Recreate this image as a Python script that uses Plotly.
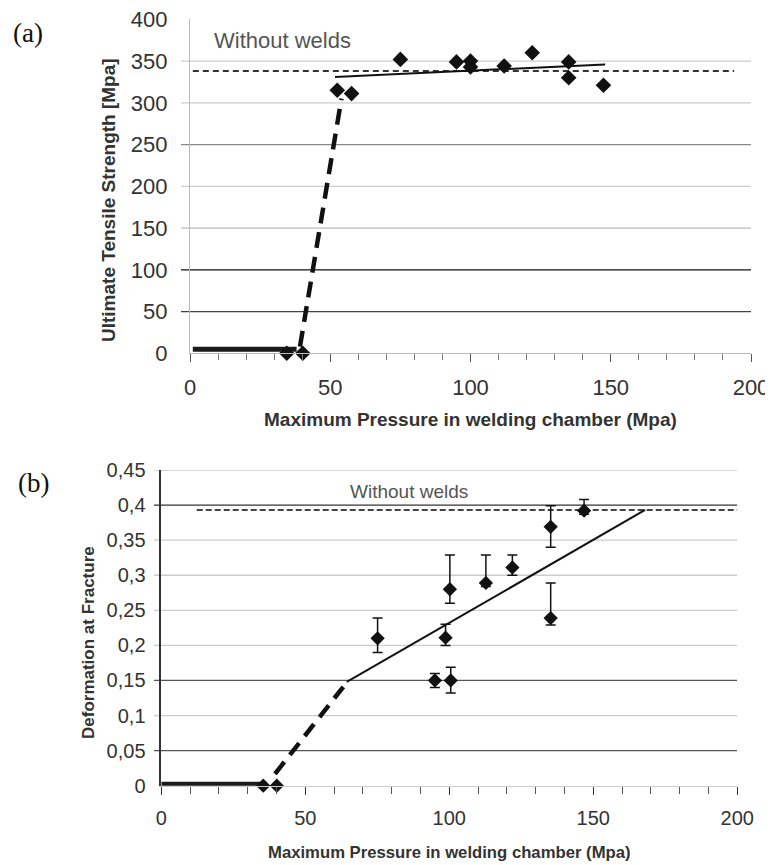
import plotly.graph_objects as go

# The page body adds an 8px margin, so the figure is laid out in
# reference pixel coordinates shifted by that margin.
OFF = 8
W, H = 773 - OFF, 865 - OFF


def px(x):
    return (x - OFF) / W


def py(y):
    return 1 - (y - OFF) / H


# ---------------- Panel (a) data ----------------
a_zero_p = [34.5, 40.2]
a_zero_uts = [0, 0]
a_p = [52.5, 57.6, 75, 95, 100, 100, 112, 122, 135, 135, 147.4]
a_uts = [315, 311, 352, 349, 350, 343, 344, 360, 349, 330, 321]
a_low_line_p = [1, 38]
a_low_line_uts = [5, 5]
a_jump_p = [39.2, 54]
a_jump_uts = [8, 305]
a_fit_p = [51.7, 148]
a_fit_uts = [331, 346]
a_ref_p = [1, 194]
a_ref_uts = [338, 338]
a_grid_vals = [50, 100, 150, 200, 250, 300, 350]
a_grid_cols = ["#444", "#111", "#bbb", "#ccc", "#888", "#ccc", "#ccc"]
a_xticks = [0, 50, 100, 150, 200]
a_yticks = [0, 50, 100, 150, 200, 250, 300, 350, 400]

# ---------------- Panel (b) data ----------------
b_zero_p = [35.4, 40.1]
b_zero_d = [0, 0]
b_p = [75.1, 95.0, 98.7, 100.5, 100.2, 112.7, 121.9, 135.2, 135.2, 146.8]
b_d = [0.21, 0.15, 0.211, 0.15, 0.28, 0.289, 0.311, 0.369, 0.239, 0.392]
b_err_plus = [0.029, 0.01, 0.019, 0.019, 0.049, 0.04, 0.018, 0.03, 0.05, 0.016]
b_err_minus = [0.02, 0.01, 0.011, 0.018, 0.02, 0.005, 0.011, 0.029, 0.01, 0.005]
b_low_line_p = [0, 36.7]
b_low_line_d = [0.002, 0.002]
b_jump_p = [39.5, 63.2]
b_jump_d = [0.017, 0.141]
b_fit_p = [64.4, 168]
b_fit_d = [0.148, 0.393]
b_ref_p = [12.3, 200]
b_ref_d = [0.393, 0.393]
b_grid_vals = [0.05, 0.1, 0.15, 0.2, 0.25, 0.3, 0.35, 0.4, 0.45]
b_grid_cols = ["#555", "#ccc", "#555", "#ccc", "#ccc", "#ccc", "#ccc", "#333", "#ccc"]
b_xticks = [0, 50, 100, 150, 200]

FONT = "Liberation Sans, Arial, sans-serif"
SERIF = "Liberation Serif, Times New Roman, serif"

fig = go.Figure()

# ---- (a) traces ----
fig.add_trace(go.Scatter(x=a_ref_p, y=a_ref_uts, mode="lines", xaxis="x", yaxis="y",
                         line=dict(color="#333", width=2, dash="6px,4px"), showlegend=False))
fig.add_trace(go.Scatter(x=a_low_line_p, y=a_low_line_uts, mode="lines", xaxis="x", yaxis="y",
                         line=dict(color="#1a1a1a", width=5), showlegend=False))
fig.add_trace(go.Scatter(x=a_jump_p, y=a_jump_uts, mode="lines", xaxis="x", yaxis="y",
                         line=dict(color="#111", width=4.5, dash="16px,9px"), showlegend=False))
fig.add_trace(go.Scatter(x=a_fit_p, y=a_fit_uts, mode="lines", xaxis="x", yaxis="y",
                         line=dict(color="#111", width=2), showlegend=False))
fig.add_trace(go.Scatter(x=a_zero_p + a_p, y=a_zero_uts + a_uts, mode="markers", xaxis="x", yaxis="y",
                         marker=dict(symbol="diamond", size=12, color="#111"),
                         cliponaxis=False, showlegend=False))

# ---- (b) traces ----
fig.add_trace(go.Scatter(x=b_ref_p, y=b_ref_d, mode="lines", xaxis="x2", yaxis="y2",
                         line=dict(color="#444", width=2, dash="6px,3px"), showlegend=False))
fig.add_trace(go.Scatter(x=b_low_line_p, y=b_low_line_d, mode="lines", xaxis="x2", yaxis="y2",
                         line=dict(color="#1a1a1a", width=5), showlegend=False))
fig.add_trace(go.Scatter(x=b_jump_p, y=b_jump_d, mode="lines", xaxis="x2", yaxis="y2",
                         line=dict(color="#111", width=4.5, dash="15px,9px"), showlegend=False))
fig.add_trace(go.Scatter(x=b_fit_p, y=b_fit_d, mode="lines", xaxis="x2", yaxis="y2",
                         line=dict(color="#111", width=2), showlegend=False))
fig.add_trace(go.Scatter(x=b_zero_p, y=b_zero_d, mode="markers", xaxis="x2", yaxis="y2",
                         marker=dict(symbol="diamond", size=11, color="#111"),
                         cliponaxis=False, showlegend=False))
fig.add_trace(go.Scatter(x=b_p, y=b_d, mode="markers", xaxis="x2", yaxis="y2",
                         marker=dict(symbol="diamond", size=11, color="#111"),
                         error_y=dict(type="data", symmetric=False, array=b_err_plus,
                                      arrayminus=b_err_minus, color="#111", thickness=1.5, width=5),
                         cliponaxis=False, showlegend=False))

shapes = []
for v, c in zip(a_grid_vals, a_grid_cols):
    shapes.append(dict(type="line", xref="paper", yref="y", x0=px(181), x1=px(751), y0=v, y1=v,
                       line=dict(color=c, width=1.3), layer="below"))
for v, c in zip(b_grid_vals, b_grid_cols):
    shapes.append(dict(type="line", xref="paper", yref="y2", x0=px(154), x1=px(737), y0=v, y1=v,
                       line=dict(color=c, width=1.3), layer="below"))

annotations = [
    dict(text="(a)", x=px(28), y=py(33), xref="paper", yref="paper", showarrow=False,
         font=dict(family=SERIF, size=27, color="#111"), xanchor="center", yanchor="middle"),
    dict(text="(b)", x=px(33), y=py(483), xref="paper", yref="paper", showarrow=False,
         font=dict(family=SERIF, size=27, color="#111"), xanchor="center", yanchor="middle"),
    dict(text="Without welds", x=33, y=375, xref="x", yref="y", showarrow=False,
         font=dict(family=FONT, size=22, color="#555"), xanchor="center", yanchor="middle"),
    dict(text="Without welds", x=86, y=0.419, xref="x2", yref="y2", showarrow=False,
         font=dict(family=FONT, size=19, color="#555"), xanchor="center", yanchor="middle"),
    dict(text="<b>Maximum Pressure in welding chamber (Mpa)</b>", x=px(470), y=py(420),
         xref="paper", yref="paper", showarrow=False,
         font=dict(family=FONT, size=19, color="#333"), xanchor="center", yanchor="middle"),
    dict(text="<b>Maximum Pressure in welding chamber (Mpa)</b>", x=px(450), y=py(852),
         xref="paper", yref="paper", showarrow=False,
         font=dict(family=FONT, size=16.7, color="#333"), xanchor="center", yanchor="middle"),
    dict(text="<b>Ultimate Tensile Strength [Mpa]</b>", x=px(108), y=py(200),
         xref="paper", yref="paper", showarrow=False, textangle=-90,
         font=dict(family=FONT, size=19, color="#333"), xanchor="center", yanchor="middle"),
    dict(text="<b>Deformation at Fracture</b>", x=px(88), y=py(643),
         xref="paper", yref="paper", showarrow=False, textangle=-90,
         font=dict(family=FONT, size=17, color="#333"), xanchor="center", yanchor="middle"),
]

fig.update_layout(
    template="none",
    width=W, height=H, autosize=False,
    margin=dict(l=0, r=0, t=0, b=0, pad=0),
    paper_bgcolor="white", plot_bgcolor="white",
    separators=",.",
    showlegend=False,
    font=dict(family=FONT, color="#333"),
    shapes=shapes, annotations=annotations,
    xaxis=dict(domain=[px(190), px(751)], anchor="y", range=[0, 200], tickvals=a_xticks,
               automargin=False, ticklabeloverflow="allow",
               showgrid=False, zeroline=False, showline=True, linecolor="#bbb", linewidth=1.3,
               ticks="outside", ticklen=8, tickcolor="#555", tickwidth=1.3,
               minor=dict(tickvals=list(range(0, 201, 10)), ticks="outside", ticklen=6,
                          tickcolor="#777", tickwidth=1.2, showgrid=False),
               tickfont=dict(size=22, color="#333"), ticklabelstandoff=6),
    yaxis=dict(domain=[py(353.3), py(19.3)], anchor="x", range=[0, 400], tickvals=a_yticks,
               automargin=False, ticklabeloverflow="allow",
               showgrid=False, zeroline=False, showline=True, linecolor="#bbb", linewidth=1.3,
               ticks="", tickfont=dict(size=22, color="#333"), ticklabelstandoff=17),
    xaxis2=dict(domain=[px(161.3), px(737.3)], anchor="y2", range=[0, 200], tickvals=b_xticks,
                automargin=False, ticklabeloverflow="allow",
                showgrid=False, zeroline=False, showline=True, linecolor="#ccc", linewidth=1.3,
                ticks="outside", ticklen=8, tickcolor="#333", tickwidth=1.3,
                minor=dict(tickvals=list(range(0, 201, 10)), ticks="outside", ticklen=7,
                           tickcolor="#555", tickwidth=1.2, showgrid=False),
                tickfont=dict(size=20, color="#333"), ticklabelstandoff=6),
    yaxis2=dict(domain=[py(785.7), py(470)], anchor="x2", range=[0, 0.45], dtick=0.05, tick0=0,
                automargin=False, ticklabeloverflow="allow",
                showgrid=False, zeroline=False, showline=True, linecolor="#333", linewidth=1.5,
                ticks="", tickfont=dict(size=20, color="#333"), ticklabelstandoff=10),
)

fig.write_html("out.html")
